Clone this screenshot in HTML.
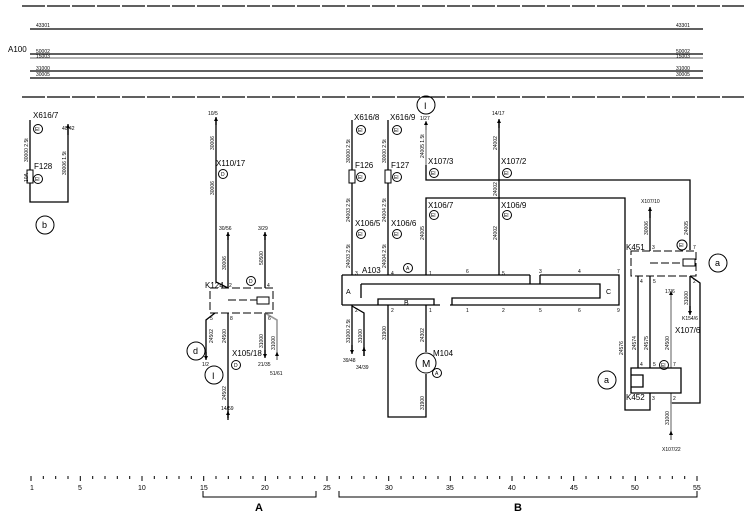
<!DOCTYPE html>
<html><head><meta charset="utf-8"><style>
html,body{margin:0;padding:0;background:#fff;}
svg{display:block}
text{font-family:"Liberation Sans",sans-serif;fill:#000}
.s{font-size:5px}
.m{font-size:8px}
.w{stroke:#000;stroke-width:1.3;fill:none}
.g{stroke:#999;stroke-width:1.6;fill:none}
.d{stroke:#000;stroke-width:1;fill:none;stroke-dasharray:8,3}
.t{stroke:#000;stroke-width:1;fill:none}
</style></head><body>
<svg width="744" height="518" viewBox="0 0 744 518" xmlns="http://www.w3.org/2000/svg">
<defs>
<marker id="a" viewBox="0 0 6 6" refX="6" refY="3" markerWidth="6" markerHeight="4" orient="auto-start-reverse" markerUnits="userSpaceOnUse"><path d="M0,0 L6,3 L0,6Z" fill="#000"/></marker>
</defs>
<line x1="22" y1="6" x2="744" y2="6" stroke="#000" stroke-width="1.3" stroke-dasharray="23,2"/>
<line x1="22" y1="97" x2="744" y2="97" stroke="#000" stroke-width="1.3" stroke-dasharray="23,2"/>
<text x="8" y="52" class="m">A100</text>
<g class="w">
<line x1="30" y1="29" x2="703" y2="29"/>
<line x1="30" y1="54" x2="703" y2="54"/>
<line x1="30" y1="71" x2="703" y2="71"/>
<line x1="30" y1="78" x2="703" y2="78"/>
</g>
<line x1="30" y1="58" x2="703" y2="58" class="g" stroke-width="1"/>
<g class="s">
<text x="36" y="27">43301</text><text x="676" y="27">43301</text>
<text x="36" y="53">50002</text><text x="676" y="53">50002</text>
<text x="36" y="58">15003</text><text x="676" y="58">15003</text>
<text x="36" y="70">31000</text><text x="676" y="70">31000</text>
<text x="36" y="76">30005</text><text x="676" y="76">30005</text>
</g>

<!-- section b -->
<path d="M30,120 V202 H68 V128" class="w"/>
<line x1="68" y1="135" x2="68" y2="124" class="w" marker-end="url(#a)"/>
<rect x="27" y="170" width="6" height="13" fill="#fff" stroke="#000"/>
<text x="33" y="118" class="m">X616/7</text>
<circle cx="38" cy="129" r="4.5" class="t"/><text x="35" y="131" class="s">El</text>
<text x="34" y="169" class="m">F128</text>
<circle cx="38" cy="179" r="4.5" class="t"/><text x="35" y="181" class="s">El</text>
<text x="62" y="130" class="s">40/42</text>
<circle cx="45" cy="225" r="9" class="t"/><text x="42" y="228" style="font-size:9px">b</text>
<g class="s">
<text transform="translate(28,162) rotate(-90)">30000 2.5t</text>
<text transform="translate(28,182) rotate(-90)">10A</text>
<text transform="translate(66,175) rotate(-90)">30006 1.5t</text>
</g>

<!-- section A K124 -->
<g class="w">
<path d="M216,118 V282 L228,288"/>
<line x1="228" y1="288" x2="228" y2="235"/>
<line x1="265" y1="288" x2="265" y2="235"/>
<path d="M228,313 V418"/>
<path d="M215,313 L206,320 V358"/>
<path d="M265,313 V356"/>
</g>
<path d="M265,313 L277,320 V360" class="g"/>
<g class="w">
<line x1="216" y1="125" x2="216" y2="117" marker-end="url(#a)"/>
<line x1="228" y1="240" x2="228" y2="232" marker-end="url(#a)"/>
<line x1="265" y1="240" x2="265" y2="232" marker-end="url(#a)"/>
<line x1="228" y1="420" x2="228" y2="411" marker-end="url(#a)"/>
<line x1="206" y1="352" x2="206" y2="360" marker-end="url(#a)"/>
<line x1="265" y1="350" x2="265" y2="358" marker-end="url(#a)"/>
</g>
<line x1="277" y1="360" x2="277" y2="352" class="g" marker-end="url(#a)"/>
<rect x="210" y="288" width="63" height="25" class="d"/>
<rect x="257" y="297" width="12" height="7" fill="#fff" stroke="#000"/>
<line x1="228" y1="300" x2="257" y2="300" class="d" stroke-dasharray="5,2"/>
<text x="208" y="115" class="s">10/5</text>
<text x="219" y="230" class="s">30/56</text>
<text x="258" y="230" class="s">3/29</text>
<text x="216" y="166" class="m">X110/17</text>
<circle cx="223" cy="174" r="4.5" class="t"/><text x="221" y="176" class="s">D</text>
<text x="205" y="288" class="m">K124</text>
<circle cx="251" cy="281" r="4.5" class="t"/><text x="249" y="283" class="s">D</text>
<text x="229" y="287" class="s">2</text><text x="267" y="287" class="s">4</text>
<text x="210" y="320" class="s">5</text><text x="230" y="320" class="s">8</text><text x="268" y="320" class="s">6</text>
<text x="202" y="366" class="s">1/2</text>
<circle cx="214" cy="375" r="9" class="t"/><text x="212" y="379" style="font-size:9px">I</text>
<circle cx="196" cy="351" r="9" class="t"/><text x="193" y="354" style="font-size:9px">d</text>
<text x="232" y="356" class="m">X105/18</text>
<circle cx="236" cy="365" r="4.5" class="t"/><text x="234" y="367" class="s">D</text>
<text x="258" y="366" class="s">21/35</text><text x="270" y="375" class="s">51/61</text>
<text x="221" y="410" class="s">14/59</text>
<g class="s">
<text transform="translate(214,195) rotate(-90)">30006</text>
<text transform="translate(214,150) rotate(-90)">30006</text>
<text transform="translate(226,270) rotate(-90)">30006</text>
<text transform="translate(263,265) rotate(-90)">50500</text>
<text transform="translate(213,343) rotate(-90)">24502</text>
<text transform="translate(226,343) rotate(-90)">24500</text>
<text transform="translate(226,400) rotate(-90)">24502</text>
<text transform="translate(263,348) rotate(-90)">31000</text>
<text transform="translate(275,350) rotate(-90)">31000</text>
</g>

<!-- section B A103 -->
<g class="w">
<line x1="352" y1="120" x2="352" y2="275"/>
<line x1="388" y1="120" x2="388" y2="275"/>
<path d="M426,275 V198 H625 V410 H650 V393"/>
<path d="M426,165 V180 H690 V250"/>
<line x1="499" y1="120" x2="499" y2="275"/>
<path d="M352,305 V350"/>
<path d="M388,305 V417 H426 V374"/>
<path d="M426,305 V352"/>
</g>
<path d="M426,124 V165" class="g"/>
<line x1="426" y1="130" x2="426" y2="121" class="g" marker-end="url(#a)"/>
<line x1="499" y1="128" x2="499" y2="119" class="w" marker-end="url(#a)"/>
<line x1="352" y1="345" x2="352" y2="354" class="w" marker-end="url(#a)"/>
<path d="M352,306 L364,313 V356" class="w"/>
<line x1="364" y1="356" x2="364" y2="347" class="w" marker-end="url(#a)"/>
<rect x="349" y="170" width="6" height="13" fill="#fff" stroke="#000"/>
<rect x="385" y="170" width="6" height="13" fill="#fff" stroke="#000"/>
<g class="w" stroke-width="1.1">
<path d="M342,275 H530 M540,275 H619 V305 H450 M440,305 H342 Z"/>
<path d="M342,275 V305"/>
<path d="M361,284 H600 V298 H452 V305 M434,305 V299 H378 V305 M361,284 V298"/>
<path d="M530,275 V284 M540,275 V284"/>
</g>
<text x="346" y="294" style="font-size:7px">A</text>
<text x="606" y="294" style="font-size:7px">C</text>
<text x="404" y="305" style="font-size:7px">B</text>
<g class="s">
<text x="355" y="275">3</text><text x="391" y="275">4</text><text x="429" y="275">1</text><text x="466" y="273">6</text><text x="502" y="275">5</text><text x="539" y="273">3</text><text x="578" y="273">4</text><text x="617" y="273">7</text>
<text x="355" y="312">2</text><text x="391" y="312">2</text><text x="429" y="312">1</text><text x="466" y="312">1</text><text x="502" y="312">2</text><text x="539" y="312">5</text><text x="578" y="312">6</text><text x="617" y="312">9</text>
</g>
<text x="362" y="273" class="m">A103</text>
<circle cx="408" cy="268" r="4.5" class="t"/><text x="406" y="270" class="s">A</text>
<circle cx="426" cy="105" r="9" class="t"/><text x="424" y="109" style="font-size:9px">I</text>
<text x="420" y="120" class="s">1/27</text>
<text x="492" y="115" class="s">14/17</text>
<text x="354" y="120" class="m">X616/8</text><text x="390" y="120" class="m">X616/9</text>
<text x="355" y="168" class="m">F126</text><text x="391" y="168" class="m">F127</text>
<text x="355" y="226" class="m">X106/5</text><text x="391" y="226" class="m">X106/6</text>
<text x="428" y="164" class="m">X107/3</text><text x="501" y="164" class="m">X107/2</text>
<text x="428" y="208" class="m">X106/7</text><text x="501" y="208" class="m">X106/9</text>
<g class="t">
<circle cx="361" cy="130" r="4.5"/><circle cx="397" cy="130" r="4.5"/>
<circle cx="361" cy="177" r="4.5"/><circle cx="397" cy="177" r="4.5"/>
<circle cx="361" cy="234" r="4.5"/><circle cx="397" cy="234" r="4.5"/>
<circle cx="434" cy="173" r="4.5"/><circle cx="507" cy="173" r="4.5"/>
<circle cx="434" cy="215" r="4.5"/><circle cx="507" cy="215" r="4.5"/>
</g>
<g class="s">
<text x="358" y="132">El</text><text x="394" y="132">El</text><text x="358" y="179">El</text><text x="394" y="179">El</text>
<text x="358" y="236">El</text><text x="394" y="236">El</text><text x="431" y="175">El</text><text x="504" y="175">El</text>
<text x="431" y="217">El</text><text x="504" y="217">El</text>
</g>
<g class="s">
<text transform="translate(350,163) rotate(-90)">30000 2.5t</text>
<text transform="translate(386,163) rotate(-90)">30000 2.5t</text>
<text transform="translate(350,222) rotate(-90)">24003 2.5t</text>
<text transform="translate(386,222) rotate(-90)">24004 2.5t</text>
<text transform="translate(350,268) rotate(-90)">24003 2.5t</text>
<text transform="translate(386,268) rotate(-90)">24004 2.5t</text>
<text transform="translate(424,158) rotate(-90)">24005 1.5t</text>
<text transform="translate(497,150) rotate(-90)">24002</text>
<text transform="translate(497,196) rotate(-90)">24002</text>
<text transform="translate(424,240) rotate(-90)">24005</text>
<text transform="translate(497,240) rotate(-90)">24002</text>
<text transform="translate(350,343) rotate(-90)">31000 2.5t</text>
<text transform="translate(362,343) rotate(-90)">31000</text>
<text transform="translate(386,340) rotate(-90)">31900</text>
<text transform="translate(424,342) rotate(-90)">24302</text>
<text transform="translate(424,410) rotate(-90)">31900</text>
<text transform="translate(623,355) rotate(-90)">24576</text>
</g>
<text x="343" y="362" class="s">39/48</text><text x="356" y="369" class="s">34/39</text>
<circle cx="426" cy="363" r="10" fill="#fff" stroke="#000"/><text x="422" y="367" style="font-size:10px">M</text>
<text x="433" y="356" class="m">M104</text>
<circle cx="437" cy="373" r="4.5" class="t"/><text x="435" y="375" class="s">A</text>
<circle cx="607" cy="380" r="9" class="t"/><text x="604" y="383" style="font-size:9px">a</text>

<!-- right K451 / K452 -->
<g class="w">
<line x1="650" y1="251" x2="650" y2="210"/>
<line x1="690" y1="276" x2="690" y2="312"/>
<line x1="638" y1="276" x2="638" y2="368"/>
<line x1="650" y1="276" x2="650" y2="368"/>
<path d="M690,276 L700,283 V403 H671 L671,393"/>
</g>
<line x1="650" y1="218" x2="650" y2="207" class="w" marker-end="url(#a)"/>
<line x1="690" y1="306" x2="690" y2="315" class="w" marker-end="url(#a)"/>
<path d="M671,368 V295" class="g"/>
<line x1="671" y1="300" x2="671" y2="291" class="g" marker-end="url(#a)"/>
<path d="M671,393 V440" class="g"/>
<line x1="671" y1="440" x2="671" y2="431" class="g" marker-end="url(#a)"/>
<rect x="631" y="251" width="65" height="25" class="d"/>
<rect x="683" y="259" width="12" height="7" fill="#fff" stroke="#000"/>
<line x1="650" y1="263" x2="683" y2="263" class="d" stroke-dasharray="5,2"/>
<path d="M631,368 H681 V393 H631 Z M631,375 H643 V387 H631" class="w"/>
<text x="641" y="203" class="s">X107/10</text>
<text x="626" y="250" class="m">K451</text>
<circle cx="682" cy="245" r="5" class="t"/><text x="679" y="247" class="s">El</text>
<circle cx="718" cy="263" r="9" class="t"/><text x="715" y="266" style="font-size:9px">a</text>
<text x="665" y="293" class="s">17/6</text>
<text x="682" y="320" class="s">K154/6</text>
<text x="675" y="333" class="m">X107/6</text>
<circle cx="664" cy="365" r="4.5" class="t"/><text x="661" y="367" class="s">El</text>
<text x="626" y="400" class="m">K452</text>
<text x="662" y="451" class="s">X107/22</text>
<g class="s">
<text x="652" y="249">3</text><text x="693" y="249">7</text>
<text x="640" y="283">4</text><text x="653" y="283">5</text><text x="693" y="283">2</text>
<text x="640" y="366">4</text><text x="653" y="366">5</text><text x="673" y="366">7</text>
<text x="652" y="400">3</text><text x="673" y="400">2</text>
<text transform="translate(648,235) rotate(-90)">30006</text>
<text transform="translate(688,235) rotate(-90)">24005</text>
<text transform="translate(688,305) rotate(-90)">31000</text>
<text transform="translate(636,350) rotate(-90)">24574</text>
<text transform="translate(648,350) rotate(-90)">24575</text>
<text transform="translate(669,350) rotate(-90)">24500</text>
<text transform="translate(669,425) rotate(-90)">31000</text>
</g>

<!-- scale -->
<g stroke="#000" stroke-width="1">
<path d="M31,476v5 M43.3,476v3 M55.7,476v3 M68,476v3 M80.3,476v5 M92.7,476v3 M105,476v3 M117.3,476v3 M129.7,476v3 M142,476v5 M154.3,476v3 M166.7,476v3 M179,476v3 M191.3,476v3 M203.7,476v5 M216,476v3 M228.3,476v3 M240.7,476v3 M253,476v3 M265.3,476v5 M277.7,476v3 M290,476v3 M302.3,476v3 M314.7,476v3 M327,476v5 M339.3,476v3 M351.7,476v3 M364,476v3 M376.3,476v3 M388.7,476v5 M401,476v3 M413.3,476v3 M425.7,476v3 M438,476v3 M450.3,476v5 M462.7,476v3 M475,476v3 M487.3,476v3 M499.7,476v3 M512,476v5 M524.3,476v3 M536.7,476v3 M549,476v3 M561.3,476v3 M573.7,476v5 M586,476v3 M598.3,476v3 M610.7,476v3 M623,476v3 M635.3,476v5 M647.7,476v3 M660,476v3 M672.3,476v3 M684.7,476v3 M697,476v5"/>
<path d="M203,491 V497 H316 V491 M339,491 V497 H697 V491" fill="none"/>
</g>
<g style="font-size:7px">
<text x="30" y="490">1</text><text x="78" y="490">5</text><text x="138" y="490">10</text><text x="200" y="490">15</text><text x="261" y="490">20</text><text x="323" y="490">25</text><text x="385" y="490">30</text><text x="446" y="490">35</text><text x="508" y="490">40</text><text x="570" y="490">45</text><text x="631" y="490">50</text><text x="693" y="490">55</text>
</g>
<text x="255" y="511" style="font-size:11px;font-weight:bold">A</text>
<text x="514" y="511" style="font-size:11px;font-weight:bold">B</text>
</svg>
</body></html>
